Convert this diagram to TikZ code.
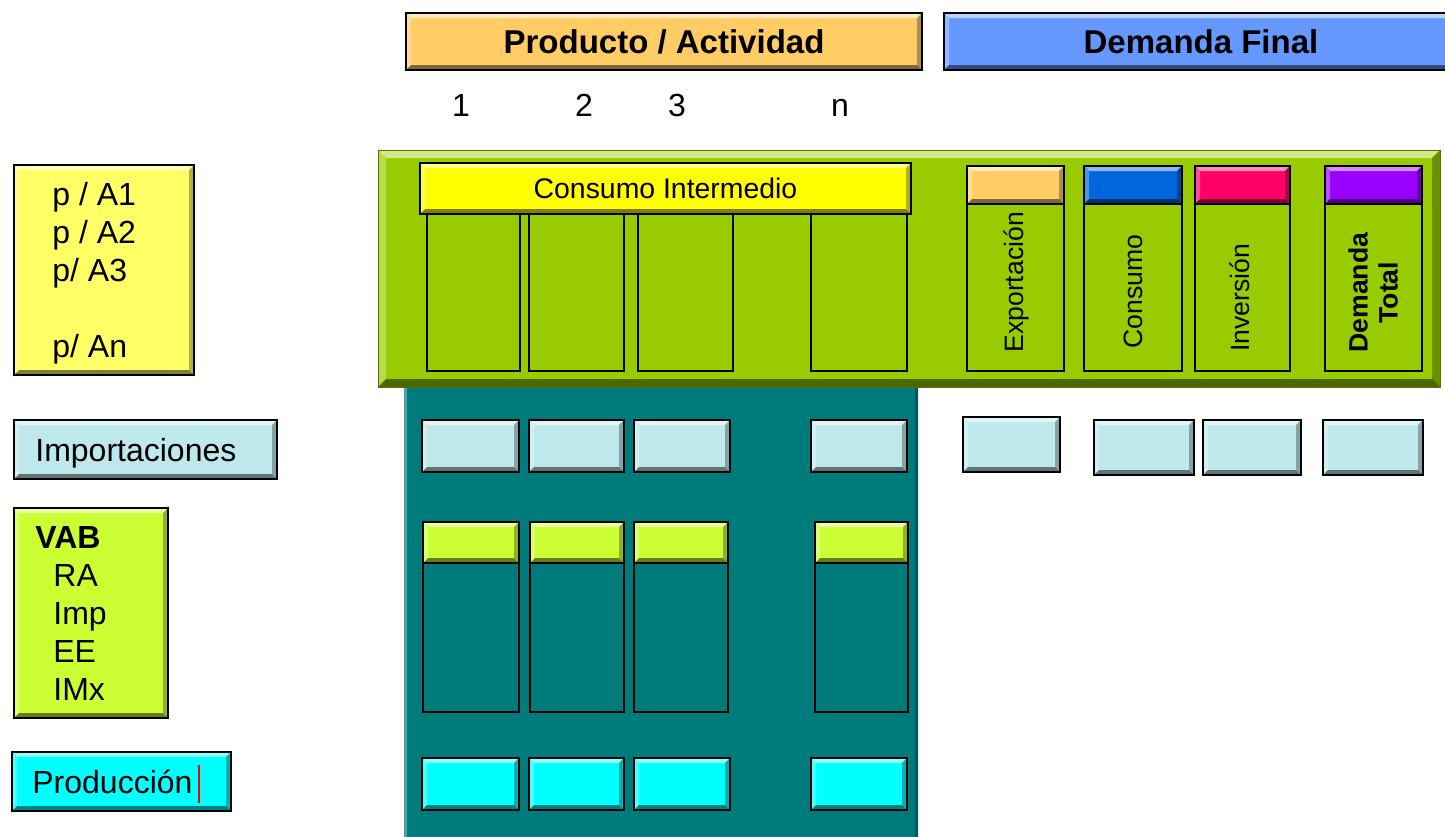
\documentclass[tikz,border=0pt]{standalone}
\usepackage{fontspec}
\setmainfont{Liberation Sans}
\usetikzlibrary{fit}
\definecolor{prodorange}{HTML}{FFCC66}
\definecolor{dfblue}{HTML}{6699FF}
\definecolor{pyellow}{HTML}{FFFF66}
\definecolor{bigg}{HTML}{99CC00}
\definecolor{ciyellow}{HTML}{FFFF00}
\definecolor{consblue}{HTML}{0066DD}
\definecolor{invred}{HTML}{FF0066}
\definecolor{totpurple}{HTML}{9900FF}
\definecolor{impblue}{HTML}{BFE8EC}
\definecolor{vabg}{HTML}{CCFF33}
\definecolor{tealc}{HTML}{007B7B}
\definecolor{cyanc}{HTML}{00FFFF}
\begin{document}
\begin{tikzpicture}[x=0.5pt,y=-0.5pt,
  bevel/.store in=\bevw, bevel=2.5pt,
  bev/.style={fill=#1, draw=black, line width=1pt, inner sep=0pt,
    path picture={
      \fill[#1!45!white] (path picture bounding box.north west) -- (path picture bounding box.north east)
        -- ([shift={(-\bevw,-\bevw)}]path picture bounding box.north east)
        -- ([shift={(\bevw,-\bevw)}]path picture bounding box.north west) -- cycle;
      \fill[#1!70!white] (path picture bounding box.north west) -- (path picture bounding box.south west)
        -- ([shift={(\bevw,\bevw)}]path picture bounding box.south west)
        -- ([shift={(\bevw,-\bevw)}]path picture bounding box.north west) -- cycle;
      \fill[#1!70!black] (path picture bounding box.north east) -- (path picture bounding box.south east)
        -- ([shift={(-\bevw,\bevw)}]path picture bounding box.south east)
        -- ([shift={(-\bevw,-\bevw)}]path picture bounding box.north east) -- cycle;
      \fill[#1!50!black] (path picture bounding box.south west) -- (path picture bounding box.south east)
        -- ([shift={(-\bevw,\bevw)}]path picture bounding box.south east)
        -- ([shift={(\bevw,\bevw)}]path picture bounding box.south west) -- cycle;
    }},
  colbox/.style={draw=black, line width=0.8pt, inner sep=0pt},
  hd/.style={font=\fontsize{16.5}{19.8}\selectfont\bfseries, inner sep=0pt},
  lbl/.style={font=\fontsize{16}{19}\selectfont, inner sep=0pt},
  rot/.style={font=\fontsize{13.3}{15}\selectfont, rotate=90, anchor=west, inner sep=0pt}]
\useasboundingbox (0,0) rectangle (1445,836);
\clip (0,0) rectangle (1445,836);
% headers
\node[bev=prodorange, fit={(406,13) (922,70)}] (prod) {};
\node[hd] (prodtxt) at (prod.center) {Producto / Actividad};
\node[bev=dfblue, fit={(944,13) (1458,70)}] (dfinal) {};
\node[hd] (dftxt) at (dfinal.center) {Demanda Final};
\foreach \x/\t in {461/1,584/2,677/3,840/n}
  \node[lbl, anchor=base] (num\t) at (\x,116) {\t};
% left column
\node[bev=pyellow, fit={(14,165) (194,375)}] (pbox) {};
\node[lbl, anchor=base west, align=left] (ptxt) at (52,357)
  {p / A1\\p / A2\\p/ A3\\[19pt]p/ An};
\node[bev=impblue, fit={(14,420) (277,479)}] (impbox) {};
\node[lbl, anchor=base west] (imptxt) at (35,461) {Importaciones};
\node[bev=vabg, fit={(14,508) (168,718)}] (vabbox) {};
\node[lbl, anchor=base west, align=left] (vabtxt) at (35,700)
  {\textbf{VAB}\\\hspace*{9pt}RA\\\hspace*{9pt}Imp\\\hspace*{9pt}EE\\\hspace*{9pt}IMx};
\node[bev=cyanc, fit={(12,752) (231,811)}] (prodbox) {};
\node[lbl, anchor=base west] (prodtxt2) at (32,793) {Producción};
\draw[red, line width=0.6pt] (199,765) -- (199,803);
% teal block
\node[bev=tealc, draw=none, bevel=1.5pt, fit={(404,370) (918,845)}] (teal) {};
% green block
\node[bev=bigg, draw=bigg!55!black, line width=0.5pt, bevel=4pt, fit={(378,150) (1440,387)}] (green) {};
\node[bev=ciyellow, fit={(420,163) (911,214)}] (ci) {};
\node[font=\fontsize{14.2}{17}\selectfont, inner sep=0pt] (citxt) at (ci.center) {Consumo Intermedio};
\foreach \a/\b/\i in {427/520/1,529/624/2,638/733/3,811/907/n}
  \node[colbox, fit={(\a,214) (\b,371)}] (cicol\i) {};
\foreach \a/\b/\c/\i in {967/1064/prodorange/exp,1084/1182/consblue/cons,1195/1290/invred/inv,1325/1422/totpurple/tot}{
  \node[colbox, fit={(\a,204) (\b,371)}] (\i col) {};
  \node[bev=\c, fit={(\a,166) (\b,204)}] (\i hd) {};
}
\node[rot] (exptxt) at (1016,353) {Exportación};
\node[rot] (constxt) at (1133,349) {Consumo};
\node[rot] (invtxt) at (1240,352) {Inversión};
\node[rot, align=center, font=\fontsize{13.3}{15}\selectfont\bfseries] (tottxt) at (1373,353) {Demanda\\Total};
% imports, VAB, production
\foreach \a/\b/\i in {422/519/1,529/624/2,634/730/3,811/907/n}{
  \node[bev=impblue, fit={(\a,420) (\b,472)}] (imp\i) {};
  \node[bev=cyanc, fit={(\a,758) (\b,810)}] (pr\i) {};
}
\foreach \a/\b/\i in {423/519/1,530/624/2,634/728/3,815/908/n}{
  \node[colbox, fit={(\a,563) (\b,712)}] (vabcol\i) {};
  \node[bev=vabg, fit={(\a,522) (\b,563)}] (vabhd\i) {};
}
\foreach \a/\b/\y/\z/\i in {963/1060/417/472/exp,1094/1194/420/475/cons,1203/1301/420/475/inv,1323/1423/420/475/tot}
  \node[bev=impblue, fit={(\a,\y) (\b,\z)}] (\i imp) {};
\end{tikzpicture}
\end{document}
